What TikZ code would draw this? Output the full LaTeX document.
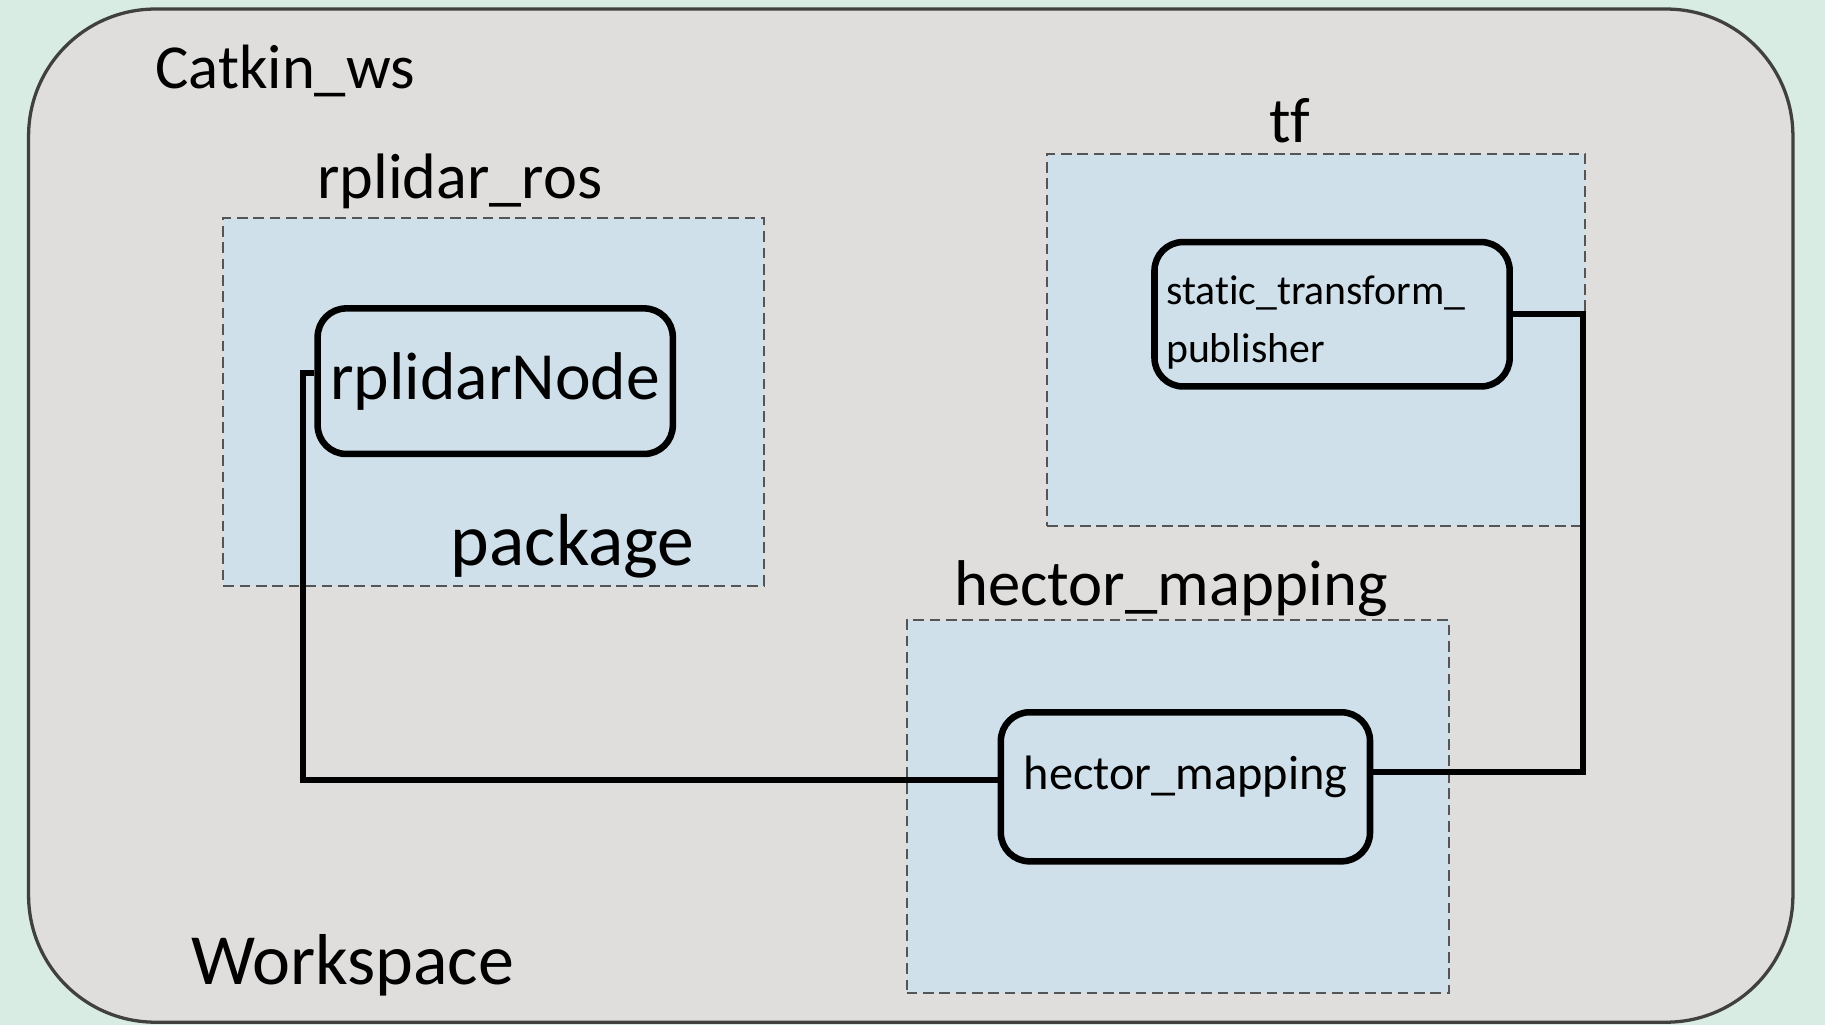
\documentclass[tikz,border=0pt]{standalone}
\usepackage{fontspec}
\setmainfont{Carlito}[Ligatures=NoCommon]
\usetikzlibrary{positioning, calc}

\definecolor{mintbg}{HTML}{D8ECE4}
\definecolor{wsgray}{HTML}{E0DEDD}
\definecolor{pkgblue}{HTML}{D0E0EA}
\definecolor{dashgray}{HTML}{555555}

\begin{document}
\begin{tikzpicture}[x=0.01cm, y=-0.01cm,
    pkg/.style={
      draw=dashgray,
      fill=pkgblue,
      line width=0.5pt,
      dash pattern=on 2.6pt off 1.4pt,
      inner sep=0pt
    },
    rosnode/.style={
      draw,
      line width=1.6pt,
      rounded corners=7pt,
      fill=pkgblue,
      inner sep=0pt
    },
    lbl/.style={inner sep=0pt},
    link/.style={line width=1.4pt}]
  \fill[mintbg] (0,0) rectangle (1568,881);
  \useasboundingbox (0,0) rectangle (1568,881);
  \node[draw=black!75, fill=wsgray, line width=0.8pt, rounded corners=31pt,
        minimum width=15.15cm, minimum height=8.70cm] (ws) at (782.5,443) {};

  % packages
  \node[pkg, minimum width=4.64cm, minimum height=3.16cm] (rpros) at (424,345) {};
  \node[pkg, minimum width=4.62cm, minimum height=3.20cm] (tfpkg) at (1131,292) {};
  \node[pkg, minimum width=4.66cm, minimum height=3.20cm] (hmpkg) at (1012,693) {};

  % nodes
  \node[rosnode, minimum width=3.05cm, minimum height=1.25cm,
        font=\fontsize{16.5}{18}\selectfont] (rpnode) at (425.5,327.5) {rplidarNode};
  \node[rosnode, minimum width=3.05cm, minimum height=1.24cm, align=left,
        text width=2.85cm, font=\fontsize{10.2}{14.2}\selectfont] (tfnode) at (1144.5,270)
        {\rule{0pt}{11pt}static\_transform\_\\publisher};
  \node[rosnode, minimum width=3.17cm, minimum height=1.28cm, text depth=7pt,
        font=\fontsize{11.8}{14}\selectfont] (hmnode) at (1018.5,676) {hector\_mapping};

  % connectors
  \draw[link] ([yshift=0.06cm]hmnode.west) -- ++(-597,0) |- ([yshift=0.07cm]rpnode.west);
  \draw[link] ([yshift=0.13cm]hmnode.east) -- ++(180,0) |- (tfnode.east);

  % labels
  \node[lbl, font=\fontsize{15.3}{18}\selectfont] (catkin) at (245,61) {Catkin\_ws};
  \node[lbl, font=\fontsize{15.7}{18}\selectfont] (rproslbl) at (395,156) {rplidar\_ros};
  \node[lbl, font=\fontsize{18}{20}\selectfont] (pkglbl) at (492,469) {package};
  \node[lbl, font=\fontsize{15.7}{18}\selectfont] (tflbl) at (1108,104) {tf};
  \node[lbl, font=\fontsize{15.8}{18}\selectfont] (hmlbl) at (1006,506) {hector\_mapping};
  \node[lbl, font=\fontsize{17.6}{20}\selectfont] (wslbl) at (303,829) {Workspace};
\end{tikzpicture}
\end{document}
